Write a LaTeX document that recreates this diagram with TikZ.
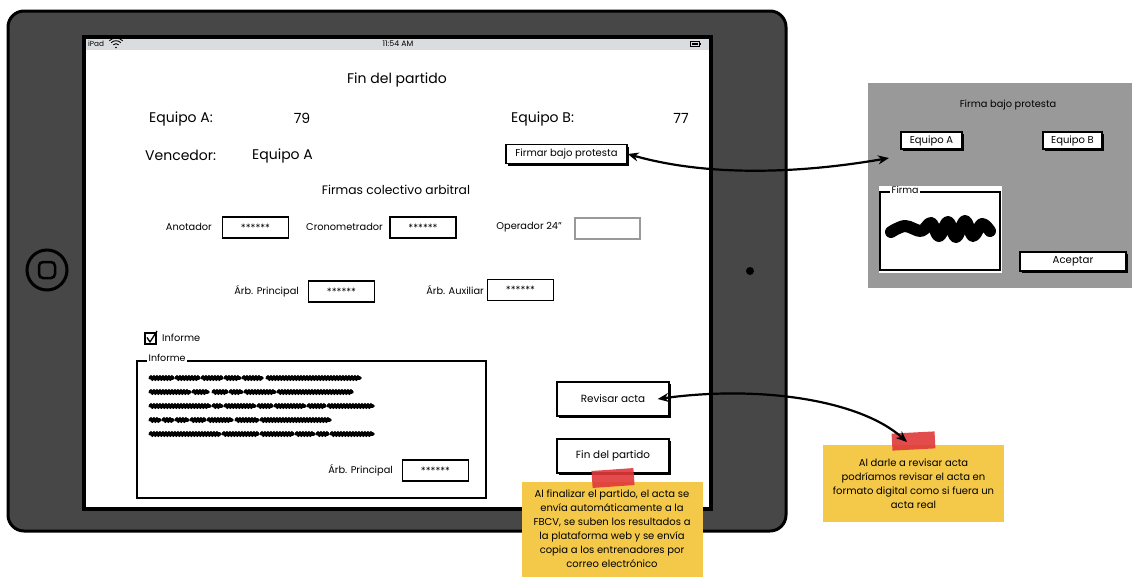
\documentclass[tikz,border=0pt]{standalone}
\usepackage{fontspec}
\setmainfont{Poppins}
\usetikzlibrary{shadows,arrows.meta,decorations.pathmorphing}
\definecolor{ipadg}{HTML}{474747}
\definecolor{statbar}{HTML}{D9DDE0}
\definecolor{panelg}{HTML}{999999}
\definecolor{stickyy}{HTML}{F4C94A}
\definecolor{tapered}{HTML}{E0383A}
\tikzset{
  big/.style={inner sep=0, font=\fontsize{14}{16}\selectfont},
  mid/.style={inner sep=0, font=\fontsize{9.8}{11}\selectfont},
  btn/.style={draw, line width=1.3, fill=white, inner sep=0, font=\fontsize{10.4}{12}\selectfont,
    drop shadow={shadow xshift=2pt, shadow yshift=-2pt, opacity=1, fill=black}},
  field/.style={draw, line width=1.3, fill=white, inner sep=0, minimum width=66, minimum height=21,
    font=\fontsize{10}{11}\selectfont},
  stickynote/.style={fill=stickyy, inner sep=0, align=center, font=\fontsize{10}{14}\selectfont},
  tapebox/.style={fill=tapered, fill opacity=0.9, inner sep=0},
  conn/.style={line width=2.2, {Stealth[length=11pt,width=9pt]}-{Stealth[length=11pt,width=9pt]}},
  scrib/.style={line width=3.6, line cap=round, decorate, decoration={snake, amplitude=0.7pt, segment length=3pt}},
}
\begin{document}
\begin{tikzpicture}[x=1pt,y=-1pt]
\useasboundingbox (0,0) rectangle (1132,576);
% iPad body
\draw[line width=3, fill=ipadg, rounded corners=16] (8,11) rectangle (786,531);
\fill[white] (84,37) rectangle (711,509);
\fill[statbar] (84,37) rectangle (711,50);
\draw[line width=3.5] (84,37) rectangle (711,509);
\draw[line width=3] (47,270) circle (20);
\draw[line width=2.5, rounded corners=4] (39,262) rectangle (55,278);
\fill (750,271) circle (4);
% status bar
\node[inner sep=0, font=\fontsize{7.3}{8}\selectfont, anchor=west] (ipadlbl) at (88,44) {iPad};
\fill (116,47.5) circle (0.9);
\draw[line width=0.9] (113.3,44.8) arc (225:315:3.8);
\draw[line width=0.9] (111.2,42.7) arc (225:315:6.8);
\draw[line width=0.9] (109.3,40.8) arc (225:315:9.5);
\node[inner sep=0, font=\fontsize{7.8}{9}\selectfont] (clock) at (398,44) {11:54 AM};
\draw[line width=0.8] (690,41.5) rectangle (699,46.5);
\fill (691.5,43) rectangle (697.5,45);
\fill (699.5,43) rectangle (700.5,45);
% screen content
\node[big] (title) at (397,79.5) {Fin del partido};
\node[big, anchor=west] (eqa) at (149,118.5) {Equipo A:};
\node[big] (sa) at (302,118.5) {79};
\node[big, anchor=west] (eqb) at (511,118.5) {Equipo B:};
\node[big] (sb) at (681,118.5) {77};
\node[big, anchor=west] (venc) at (145,155.5) {Vencedor:};
\node[big, anchor=west] (vencv) at (252,155.5) {Equipo A};
\node[btn, minimum width=121, minimum height=19, font=\fontsize{10}{11}\selectfont] (firmar) at (566.5,154) {Firmar bajo protesta};
\node[inner sep=0, font=\fontsize{12.3}{14}\selectfont] (firmas) at (396,190) {Firmas colectivo arbitral};
\node[mid, anchor=east] (anotl) at (212,227) {Anotador};
\node[field] (anotf) at (255.5,227.5) {******};
\node[mid, anchor=east] (cronl) at (383,227) {Cronometrador};
\node[field] (cronf) at (423,227.5) {******};
\node[mid, anchor=east] (operl) at (562,227) {Operador 24"};
\node[draw=panelg, line width=1.3, inner sep=0, minimum width=65, minimum height=21] (operf) at (607.5,228.5) {};
\node[mid, anchor=east] (arbpl) at (299,291) {Árb. Principal};
\node[field] (arbpf) at (341.5,291.5) {******};
\node[mid, anchor=east] (arbal) at (484,290) {Árb. Auxiliar};
\node[field] (arbaf) at (520.5,290) {******};
% checkbox
\draw[line width=1.2] (145,333) rectangle (156,344);
\draw[line width=1.3, line join=round] (147,337.5) -- (150,342) -- (157,331);
\node[mid, anchor=west] (inflbl) at (162,338) {Informe};
% Informe fieldset
\draw[line width=1.4] (137,361) rectangle (486,498);
\node[fill=white, inner xsep=1.5, inner ysep=0, font=\fontsize{9.5}{11}\selectfont, anchor=west] (infleg) at (147,358) {Informe};
\foreach \a/\b in {150/173,176/199,202/222,225/240,243/262,267/360}{\draw[scrib] (\a,378) -- (\b,378);}
\foreach \a/\b in {150/190,193/208,213/227,230/242,245/275,278/352}{\draw[scrib] (\a,392) -- (\b,392);}
\foreach \a/\b in {150/210,213/222,225/255,258/272,275/305,308/325,328/373}{\draw[scrib] (\a,406) -- (\b,406);}
\foreach \a/\b in {150/160,163/173,176/188,191/205,208/232,236/258,261/330}{\draw[scrib] (\a,420) -- (\b,420);}
\foreach \a/\b in {150/220,223/258,261/293,296/314,317/328,331/373}{\draw[scrib] (\a,434) -- (\b,434);}
\node[mid, anchor=east] (arbp2l) at (393,470) {Árb. Principal};
\node[field] (arbp2f) at (435.5,470.5) {******};
% buttons
\node[btn, minimum width=112, minimum height=34] (revisar) at (613,399) {Revisar acta};
\node[btn, minimum width=112, minimum height=34] (fin) at (613,456) {Fin del partido};
% right panel
\fill[panelg] (868,83) rectangle (1132,288);
\node[inner sep=0, font=\fontsize{9.8}{11}\selectfont] (ptitle) at (1008,105) {Firma bajo protesta};
\node[btn, minimum width=61, minimum height=17, font=\fontsize{10}{11}\selectfont] (pea) at (931.5,140.5) {Equipo A};
\node[btn, minimum width=59, minimum height=17, font=\fontsize{10}{11}\selectfont] (peb) at (1072.5,140.5) {Equipo B};
\node[btn, minimum width=106, minimum height=19, font=\fontsize{10.2}{11}\selectfont] (acept) at (1073,261.5) {Aceptar};
\fill[white] (879,186) rectangle (1002,273);
\draw[line width=1.4] (880,192) rectangle (1000,270);
\node[fill=white, inner xsep=1.5, inner ysep=0, font=\fontsize{9.5}{10}\selectfont, anchor=west] (firmaleg) at (890,190) {Firma};
\draw[line width=12, line cap=round, line join=round] plot[smooth, tension=0.6] coordinates {(891,232) (905,226) (921,231) (931,223) (939,236) (948,222) (956,237) (965,221) (973,236) (982,224) (990,231)};
\coordinate (panelpt) at (889,158);
% sticky notes
\node[stickynote, minimum width=181, minimum height=95] (note1) at (612,529) {Al finalizar el partido, el acta se\\envía automáticamente a la\\FBCV, se suben los resultados a\\la plataforma web y se envía\\copia a los entrenadores por\\correo electrónico};
\node[tapebox, minimum width=42, minimum height=17, rotate=4] (tape1) at (613,478) {};
\node[stickynote, minimum width=181, minimum height=77] (note2) at (913.5,483.5) {Al darle a revisar acta\\podríamos revisar el acta en\\formato digital como si fuera un\\acta real};
\node[tapebox, minimum width=43, minimum height=17, rotate=3] (tape2) at (913.5,441) {};
\coordinate (notept) at (907,442);
% connectors
\draw[conn] (firmar.east) .. controls (720,180) and (820,170) .. (panelpt);
\draw[conn] ([xshift=-12pt]revisar.east) .. controls (760,385) and (860,400) .. (notept);
\end{tikzpicture}
\end{document}
